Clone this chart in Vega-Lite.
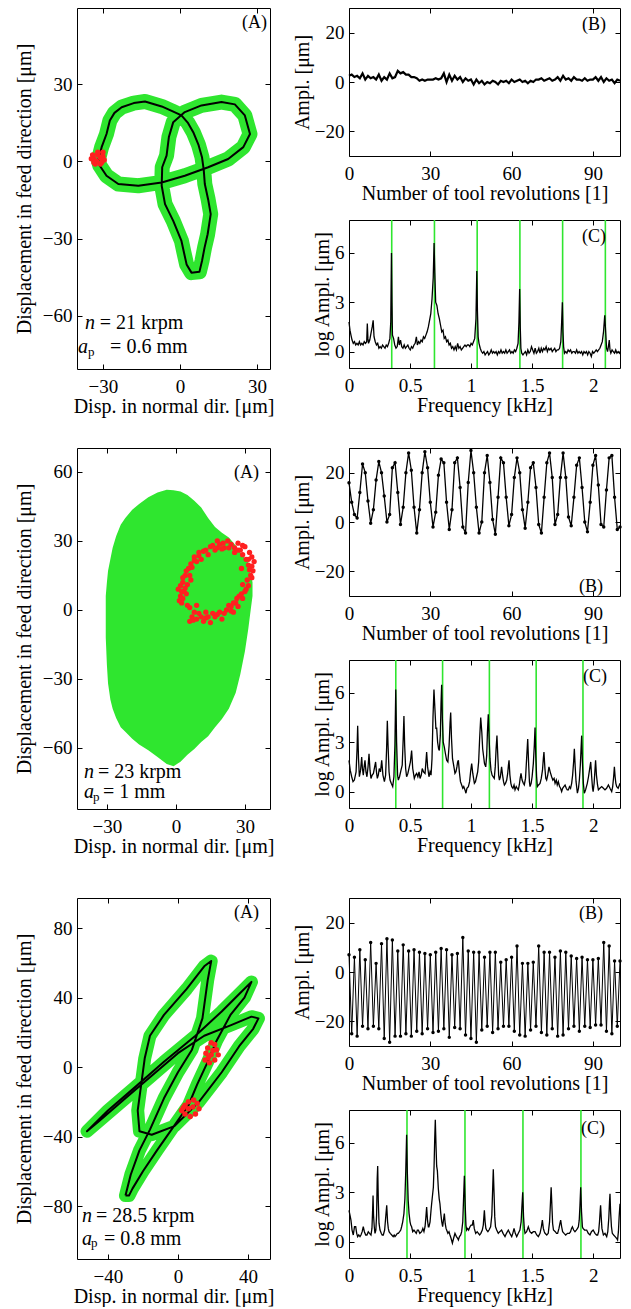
{
"$schema": "https://vega.github.io/schema/vega-lite/v6.json",
"background": "white",
"padding": {"left": 13, "top": 7, "right": 0, "bottom": 0},
"spacing": 30,
"datasets": {
"a1": [{"i":0,"x":-31.8,"y":0.5},{"i":1,"x":-30.5,"y":5.5},{"i":2,"x":-28.6,"y":10.6},{"i":3,"x":-27.3,"y":15.8},{"i":4,"x":-25.5,"y":18.8},{"i":5,"x":-22.7,"y":21},{"i":6,"x":-18,"y":22.6},{"i":7,"x":-13.6,"y":23.2},{"i":8,"x":-7.1,"y":21.3},{"i":9,"x":-3,"y":19.5},{"i":10,"x":0.6,"y":17.8},{"i":11,"x":3.2,"y":14.8},{"i":12,"x":5.2,"y":11.3},{"i":13,"x":7.2,"y":6.5},{"i":14,"x":8.6,"y":1.6},{"i":15,"x":9.3,"y":-3.5},{"i":16,"x":9.7,"y":-8.8},{"i":17,"x":11,"y":-14.8},{"i":18,"x":12,"y":-20.5},{"i":19,"x":10.8,"y":-28.3},{"i":20,"x":9.6,"y":-33.5},{"i":21,"x":8.6,"y":-38.7},{"i":22,"x":7.6,"y":-42.9},{"i":23,"x":4.5,"y":-43.2},{"i":24,"x":2.6,"y":-40},{"i":25,"x":1.6,"y":-35.5},{"i":26,"x":0.6,"y":-30.9},{"i":27,"x":-2.6,"y":-23.1},{"i":28,"x":-5.8,"y":-16.6},{"i":29,"x":-7.1,"y":-9.5},{"i":30,"x":-6.9,"y":-2.3},{"i":31,"x":-5.2,"y":2.2},{"i":32,"x":-4.3,"y":9.4},{"i":33,"x":-2.6,"y":15.2},{"i":34,"x":1.9,"y":19.1},{"i":35,"x":8.4,"y":21.7},{"i":36,"x":16.2,"y":23},{"i":37,"x":21.4,"y":22.1},{"i":38,"x":25.3,"y":17.8},{"i":39,"x":27.3,"y":10.6},{"i":40,"x":24.7,"y":5.5},{"i":41,"x":18.8,"y":0.9},{"i":42,"x":11,"y":-2.3},{"i":43,"x":1.9,"y":-5.6},{"i":44,"x":-7.1,"y":-8.2},{"i":45,"x":-16.2,"y":-9.5},{"i":46,"x":-24,"y":-8.8},{"i":47,"x":-28.6,"y":-5.6},{"i":48,"x":-31.2,"y":-1.7},{"i":49,"x":-31.8,"y":0.5}],
"a1r": [{"x":-33.5,"y":1},{"x":-32,"y":2.5},{"x":-30,"y":2},{"x":-31,"y":-1},{"x":-33,"y":-1},{"x":-29.5,"y":0.5},{"x":-32.5,"y":0},{"x":-31,"y":1.5},{"x":-34,"y":2.5},{"x":-30.5,"y":-0.5},{"x":-32,"y":3.5},{"x":-33.5,"y":-0.5},{"x":-30,"y":3.5},{"x":-34.5,"y":1}],
"a2": [{"x":-30.5,"lo":-12,"hi":6},{"x":-30,"lo":-24,"hi":12},{"x":-29.5,"lo":-32,"hi":17},{"x":-28.5,"lo":-39,"hi":22},{"x":-27.5,"lo":-43,"hi":27},{"x":-26,"lo":-47,"hi":32},{"x":-24,"lo":-51,"hi":37},{"x":-22,"lo":-53,"hi":40},{"x":-19,"lo":-56,"hi":43.5},{"x":-16,"lo":-58.5,"hi":46},{"x":-12,"lo":-61,"hi":49},{"x":-8,"lo":-64,"hi":51},{"x":-4,"lo":-67,"hi":52.2},{"x":-1,"lo":-68,"hi":52},{"x":2,"lo":-66,"hi":51.5},{"x":5,"lo":-63,"hi":50},{"x":8,"lo":-60.5,"hi":47.5},{"x":11,"lo":-57.5,"hi":44.5},{"x":14,"lo":-55,"hi":40},{"x":17,"lo":-51,"hi":36},{"x":20,"lo":-47.5,"hi":33.5},{"x":23,"lo":-43,"hi":31.5},{"x":26,"lo":-36,"hi":28},{"x":28,"lo":-28,"hi":25},{"x":30,"lo":-18,"hi":22.5},{"x":31.5,"lo":-8,"hi":20.5},{"x":32.5,"lo":0,"hi":16},{"x":33.3,"lo":6,"hi":12}],
"a2r": [{"x":2,"y":6},{"x":1,"y":9},{"x":3,"y":12},{"x":2.5,"y":3},{"x":4,"y":15},{"x":5.5,"y":18},{"x":4.5,"y":7},{"x":6,"y":1},{"x":7,"y":-3},{"x":6,"y":-5},{"x":9,"y":-4},{"x":10,"y":-1.5},{"x":12,"y":-5},{"x":14,"y":-3},{"x":15,"y":-5.5},{"x":17,"y":-3},{"x":19,"y":-1},{"x":20,"y":-4},{"x":22,"y":0},{"x":24,"y":1.5},{"x":25,"y":-1},{"x":26,"y":3},{"x":27.5,"y":6},{"x":29,"y":5},{"x":30,"y":8},{"x":29,"y":11},{"x":31,"y":13},{"x":32.5,"y":15},{"x":33,"y":19},{"x":34,"y":21},{"x":31.5,"y":22},{"x":32,"y":25},{"x":30,"y":27.5},{"x":28,"y":26},{"x":27,"y":29},{"x":24,"y":28.5},{"x":22.5,"y":30},{"x":21,"y":27},{"x":19,"y":28.5},{"x":17,"y":26},{"x":15,"y":27.5},{"x":14,"y":24},{"x":12,"y":25.5},{"x":11,"y":22},{"x":9,"y":21},{"x":8,"y":23},{"x":7,"y":18.5},{"x":6,"y":15},{"x":5,"y":11},{"x":3.5,"y":8},{"x":28.5,"y":18},{"x":25.5,"y":25},{"x":9,"y":2},{"x":16,"y":-1.5},{"x":20.5,"y":29},{"x":32,"y":17.5},{"x":1.5,"y":4},{"x":2,"y":10.5},{"x":3,"y":14},{"x":4.5,"y":17},{"x":6.5,"y":20},{"x":8,"y":21.5},{"x":10,"y":23.5},{"x":13,"y":26},{"x":16,"y":28},{"x":18,"y":27},{"x":20,"y":26.5},{"x":23,"y":27},{"x":25.5,"y":27},{"x":27,"y":26},{"x":29,"y":24},{"x":30.5,"y":22},{"x":31.5,"y":19.5},{"x":33.5,"y":17},{"x":33,"y":14},{"x":31.5,"y":10.5},{"x":30.5,"y":9},{"x":28.5,"y":7},{"x":26.5,"y":5},{"x":25,"y":3},{"x":23,"y":2},{"x":21,"y":-1.5},{"x":18,"y":-2},{"x":13,"y":-3.5},{"x":11,"y":-3},{"x":8,"y":-1},{"x":5,"y":2},{"x":3,"y":5},{"x":4,"y":9.5},{"x":2.5,"y":8},{"x":7.5,"y":-4.5},{"x":13,"y":-1},{"x":24,"y":-0.5},{"x":27,"y":1.5},{"x":33,"y":23},{"x":29,"y":28},{"x":18,"y":30},{"x":10,"y":25},{"x":6.5,"y":13}],
"a3": [{"i":0,"x":-30,"y":-74},{"i":1,"x":-27,"y":-62},{"i":2,"x":-22,"y":-48},{"i":3,"x":-16,"y":-36},{"i":4,"x":-8,"y":-18},{"i":5,"x":0,"y":-3},{"i":6,"x":8,"y":10},{"i":7,"x":14,"y":28},{"i":8,"x":17,"y":50},{"i":9,"x":19,"y":61},{"i":10,"x":15,"y":58},{"i":11,"x":5,"y":45},{"i":12,"x":-8,"y":30},{"i":13,"x":-16,"y":18},{"i":14,"x":-19,"y":5},{"i":15,"x":-21,"y":-10},{"i":16,"x":-23,"y":-25},{"i":17,"x":-22,"y":-37},{"i":18,"x":-15,"y":-39},{"i":19,"x":-2,"y":-34},{"i":20,"x":12,"y":-20},{"i":21,"x":25,"y":-3},{"i":22,"x":35,"y":12},{"i":23,"x":43,"y":22},{"i":24,"x":46,"y":28},{"i":25,"x":42,"y":29},{"i":26,"x":30,"y":24},{"i":27,"x":15,"y":18},{"i":28,"x":0,"y":8},{"i":29,"x":-15,"y":-5},{"i":30,"x":-30,"y":-18},{"i":31,"x":-45,"y":-31},{"i":32,"x":-52,"y":-37},{"i":33,"x":-40,"y":-25},{"i":34,"x":-25,"y":-12},{"i":35,"x":-8,"y":3},{"i":36,"x":10,"y":18},{"i":37,"x":25,"y":32},{"i":38,"x":36,"y":43},{"i":39,"x":42,"y":49},{"i":40,"x":38,"y":40},{"i":41,"x":30,"y":30},{"i":42,"x":22,"y":15},{"i":43,"x":17,"y":3},{"i":44,"x":11,"y":-10},{"i":45,"x":6,"y":-22},{"i":46,"x":-3,"y":-35},{"i":47,"x":-12,"y":-48},{"i":48,"x":-20,"y":-60},{"i":49,"x":-26,"y":-70},{"i":50,"x":-28,"y":-74},{"i":51,"x":-30,"y":-74}],
"a3r": [{"x":15.5,"y":4},{"x":18,"y":2.5},{"x":21,"y":4},{"x":23,"y":7},{"x":22,"y":10},{"x":21,"y":13},{"x":19,"y":14},{"x":17,"y":11},{"x":16,"y":8},{"x":19,"y":7},{"x":20,"y":9.5},{"x":17.5,"y":5.5},{"x":2,"y":-25},{"x":4,"y":-22},{"x":6,"y":-20},{"x":9,"y":-19},{"x":11,"y":-21},{"x":12,"y":-24},{"x":10,"y":-27},{"x":7,"y":-28.5},{"x":4,"y":-27},{"x":6,"y":-24},{"x":8.5,"y":-23},{"x":3,"y":-23.5}],
"b1": [{"x":0,"y":2.5},{"x":1,"y":3},{"x":2,"y":2},{"x":3,"y":2.5},{"x":4,"y":1.5},{"x":5,"y":3.5},{"x":6,"y":1},{"x":7,"y":2.5},{"x":8,"y":1.5},{"x":9,"y":2},{"x":10,"y":1},{"x":11,"y":3},{"x":12,"y":0.5},{"x":13,"y":2},{"x":14,"y":1},{"x":15,"y":3.5},{"x":16,"y":1.5},{"x":17,"y":2},{"x":18,"y":4.5},{"x":19,"y":3.5},{"x":20,"y":4},{"x":21,"y":3},{"x":22,"y":3},{"x":23,"y":2},{"x":24,"y":2},{"x":25,"y":1.5},{"x":26,"y":0.5},{"x":27,"y":1},{"x":28,"y":0.5},{"x":29,"y":1},{"x":30,"y":1},{"x":31,"y":1},{"x":32,"y":1.5},{"x":33,"y":1},{"x":34,"y":1.5},{"x":35,"y":3.5},{"x":36,"y":0},{"x":37,"y":3},{"x":38,"y":0.5},{"x":39,"y":2.5},{"x":40,"y":1},{"x":41,"y":2},{"x":42,"y":0},{"x":43,"y":1.5},{"x":44,"y":0.5},{"x":45,"y":1},{"x":46,"y":-1},{"x":47,"y":1},{"x":48,"y":-0.5},{"x":49,"y":0.5},{"x":50,"y":-1},{"x":51,"y":0},{"x":52,"y":-0.5},{"x":53,"y":0.5},{"x":54,"y":0},{"x":55,"y":-1},{"x":56,"y":0.5},{"x":57,"y":0},{"x":58,"y":0.5},{"x":59,"y":-0.5},{"x":60,"y":1},{"x":61,"y":0},{"x":62,"y":0.5},{"x":63,"y":1},{"x":64,"y":0},{"x":65,"y":0.5},{"x":66,"y":-0.5},{"x":67,"y":0.5},{"x":68,"y":0},{"x":69,"y":1},{"x":70,"y":1},{"x":71,"y":1.5},{"x":72,"y":0.5},{"x":73,"y":1},{"x":74,"y":1.5},{"x":75,"y":0.5},{"x":76,"y":1},{"x":77,"y":2},{"x":78,"y":0.5},{"x":79,"y":2.5},{"x":80,"y":1},{"x":81,"y":1.5},{"x":82,"y":0.5},{"x":83,"y":2},{"x":84,"y":1},{"x":85,"y":1},{"x":86,"y":0.5},{"x":87,"y":1.5},{"x":88,"y":0.5},{"x":89,"y":1},{"x":90,"y":1},{"x":91,"y":2},{"x":92,"y":0.5},{"x":93,"y":2},{"x":94,"y":0},{"x":95,"y":1.5},{"x":96,"y":0.5},{"x":97,"y":1},{"x":98,"y":-0.5},{"x":99,"y":1},{"x":100,"y":0.5}],
"b2": [{"x":0,"y":15.9},{"x":1,"y":8},{"x":2,"y":3},{"x":3,"y":1.6},{"x":4,"y":12},{"x":5,"y":23.5},{"x":6,"y":20},{"x":7,"y":8.5},{"x":8,"y":-0.5},{"x":9,"y":5},{"x":10,"y":17},{"x":11,"y":24.5},{"x":12,"y":20},{"x":13,"y":10.5},{"x":14,"y":0},{"x":15,"y":3},{"x":16,"y":22},{"x":17,"y":24},{"x":18,"y":12},{"x":19,"y":-1},{"x":20,"y":6},{"x":21,"y":20},{"x":22,"y":28},{"x":23,"y":21},{"x":24,"y":6},{"x":25,"y":-4.5},{"x":26,"y":5},{"x":27,"y":20},{"x":28,"y":28.5},{"x":29,"y":22},{"x":30,"y":8},{"x":31,"y":-2},{"x":32,"y":4},{"x":33,"y":19},{"x":34,"y":25.5},{"x":35,"y":24},{"x":36,"y":8},{"x":37,"y":-3},{"x":38,"y":5},{"x":39,"y":24},{"x":40,"y":26},{"x":41,"y":14},{"x":42,"y":-2},{"x":43,"y":-4.5},{"x":44,"y":16},{"x":45,"y":29},{"x":46,"y":20},{"x":47,"y":6},{"x":48,"y":-4.5},{"x":49,"y":0},{"x":50,"y":20},{"x":51,"y":27},{"x":52,"y":16},{"x":53,"y":1},{"x":54,"y":-5},{"x":55,"y":10},{"x":56,"y":26},{"x":57,"y":24},{"x":58,"y":10},{"x":59,"y":-1.5},{"x":60,"y":3},{"x":61,"y":18},{"x":62,"y":26},{"x":63,"y":20},{"x":64,"y":5},{"x":65,"y":-2.5},{"x":66,"y":8},{"x":67,"y":22},{"x":68,"y":24},{"x":69,"y":14},{"x":70,"y":-1},{"x":71,"y":-4.5},{"x":72,"y":10},{"x":73,"y":24},{"x":74,"y":28},{"x":75,"y":18},{"x":76,"y":-1},{"x":77,"y":3},{"x":78,"y":18},{"x":79,"y":28},{"x":80,"y":18},{"x":81,"y":2},{"x":82,"y":-1.5},{"x":83,"y":10},{"x":84,"y":23},{"x":85,"y":26},{"x":86,"y":14},{"x":87,"y":0},{"x":88,"y":-4},{"x":89,"y":8},{"x":90,"y":23},{"x":91,"y":27},{"x":92,"y":15},{"x":93,"y":-1},{"x":94,"y":-2},{"x":95,"y":13},{"x":96,"y":26},{"x":97,"y":27},{"x":98,"y":10},{"x":99,"y":-3},{"x":100,"y":-2}],
"b3": [{"x":0,"y":7},{"x":1,"y":-25},{"x":2,"y":6},{"x":3,"y":-26},{"x":4,"y":9},{"x":5,"y":-22},{"x":6,"y":5},{"x":7,"y":-23},{"x":8,"y":12},{"x":9,"y":-22},{"x":10,"y":3.5},{"x":11,"y":-23},{"x":12,"y":11.5},{"x":13,"y":-27},{"x":14,"y":13.5},{"x":15,"y":-28.5},{"x":16,"y":13},{"x":17,"y":-26},{"x":18,"y":8.5},{"x":19,"y":-26},{"x":20,"y":11},{"x":21,"y":-25},{"x":22,"y":8.5},{"x":23,"y":-26},{"x":24,"y":9},{"x":25,"y":-24},{"x":26,"y":8},{"x":27,"y":-25},{"x":28,"y":7.5},{"x":29,"y":-23},{"x":30,"y":7},{"x":31,"y":-24.5},{"x":32,"y":8},{"x":33,"y":-24},{"x":34,"y":9.5},{"x":35,"y":-23},{"x":36,"y":9},{"x":37,"y":-26.5},{"x":38,"y":7},{"x":39,"y":-22.5},{"x":40,"y":7.5},{"x":41,"y":-23},{"x":42,"y":14},{"x":43,"y":-25.5},{"x":44,"y":8.5},{"x":45,"y":-27},{"x":46,"y":8},{"x":47,"y":-28.5},{"x":48,"y":8},{"x":49,"y":-23.5},{"x":50,"y":6},{"x":51,"y":-22},{"x":52,"y":8},{"x":53,"y":-24.5},{"x":54,"y":8},{"x":55,"y":-23},{"x":56,"y":4},{"x":57,"y":-22},{"x":58,"y":5},{"x":59,"y":-22},{"x":60,"y":6},{"x":61,"y":-24},{"x":62,"y":10.5},{"x":63,"y":-25.5},{"x":64,"y":3.5},{"x":65,"y":-26},{"x":66,"y":3.5},{"x":67,"y":-23.5},{"x":68,"y":4},{"x":69,"y":-22},{"x":70,"y":10.5},{"x":71,"y":-24.5},{"x":72,"y":8},{"x":73,"y":-25.5},{"x":74,"y":8},{"x":75,"y":-23},{"x":76,"y":6},{"x":77,"y":-26},{"x":78,"y":8.5},{"x":79,"y":-25.5},{"x":80,"y":8},{"x":81,"y":-23},{"x":82,"y":6.5},{"x":83,"y":-22},{"x":84,"y":5.5},{"x":85,"y":-24},{"x":86,"y":6},{"x":87,"y":-22},{"x":88,"y":5},{"x":89,"y":-22.5},{"x":90,"y":5},{"x":91,"y":-21.5},{"x":92,"y":5.5},{"x":93,"y":-21.5},{"x":94,"y":12},{"x":95,"y":-24},{"x":96,"y":10.5},{"x":97,"y":-25},{"x":98,"y":4.5},{"x":99,"y":-22},{"x":100,"y":4.5}],
"c1": [{"x":0,"y":1.8},{"x":0.008,"y":1.3},{"x":0.016,"y":1},{"x":0.025,"y":0.7},{"x":0.035,"y":0.5},{"x":0.045,"y":0.6},{"x":0.055,"y":0.4},{"x":0.065,"y":0.5},{"x":0.075,"y":0.4},{"x":0.085,"y":0.6},{"x":0.095,"y":0.4},{"x":0.105,"y":0.5},{"x":0.115,"y":0.4},{"x":0.125,"y":0.6},{"x":0.135,"y":0.5},{"x":0.145,"y":0.6},{"x":0.15,"y":1.7},{"x":0.155,"y":0.8},{"x":0.16,"y":0.5},{"x":0.17,"y":0.7},{"x":0.18,"y":1.1},{"x":0.19,"y":1.5},{"x":0.198,"y":1.9},{"x":0.205,"y":0.9},{"x":0.215,"y":0.6},{"x":0.225,"y":0.4},{"x":0.235,"y":0.5},{"x":0.245,"y":0.2},{"x":0.255,"y":0.3},{"x":0.265,"y":0.2},{"x":0.275,"y":0.4},{"x":0.285,"y":0.3},{"x":0.295,"y":0.2},{"x":0.305,"y":0.4},{"x":0.315,"y":0.3},{"x":0.325,"y":0.5},{"x":0.335,"y":0.8},{"x":0.342,"y":1.8},{"x":0.348,"y":6},{"x":0.352,"y":3},{"x":0.356,"y":1},{"x":0.365,"y":0.8},{"x":0.375,"y":0.4},{"x":0.385,"y":0.2},{"x":0.395,"y":0.3},{"x":0.405,"y":0.9},{"x":0.412,"y":0.4},{"x":0.422,"y":0.7},{"x":0.432,"y":0.3},{"x":0.442,"y":0.2},{"x":0.452,"y":0.4},{"x":0.462,"y":0.2},{"x":0.472,"y":0.3},{"x":0.482,"y":0.4},{"x":0.492,"y":0.2},{"x":0.502,"y":0.1},{"x":0.512,"y":0.3},{"x":0.522,"y":0.2},{"x":0.532,"y":0.4},{"x":0.542,"y":0.5},{"x":0.552,"y":0.9},{"x":0.56,"y":0.4},{"x":0.57,"y":0.6},{"x":0.58,"y":0.5},{"x":0.59,"y":0.7},{"x":0.6,"y":0.6},{"x":0.61,"y":0.9},{"x":0.62,"y":0.8},{"x":0.63,"y":1},{"x":0.64,"y":1.2},{"x":0.65,"y":1.5},{"x":0.66,"y":1.9},{"x":0.67,"y":2.3},{"x":0.68,"y":3.2},{"x":0.69,"y":4.5},{"x":0.697,"y":6.6},{"x":0.703,"y":4.8},{"x":0.71,"y":3},{"x":0.72,"y":2.8},{"x":0.73,"y":2.3},{"x":0.74,"y":2},{"x":0.75,"y":1.6},{"x":0.76,"y":1.2},{"x":0.77,"y":1.3},{"x":0.78,"y":0.8},{"x":0.79,"y":0.9},{"x":0.8,"y":0.6},{"x":0.81,"y":0.7},{"x":0.82,"y":0.4},{"x":0.83,"y":0.5},{"x":0.84,"y":0.2},{"x":0.85,"y":0.3},{"x":0.86,"y":0.1},{"x":0.87,"y":0.3},{"x":0.88,"y":0.1},{"x":0.89,"y":0.5},{"x":0.9,"y":0.2},{"x":0.91,"y":0.3},{"x":0.92,"y":0.1},{"x":0.93,"y":0.2},{"x":0.94,"y":0.3},{"x":0.95,"y":0.4},{"x":0.96,"y":0.3},{"x":0.97,"y":0.4},{"x":0.98,"y":0.4},{"x":0.99,"y":0.3},{"x":1,"y":0.5},{"x":1.01,"y":0.4},{"x":1.02,"y":0.6},{"x":1.03,"y":0.8},{"x":1.04,"y":2},{"x":1.047,"y":4.9},{"x":1.052,"y":2.5},{"x":1.058,"y":0.9},{"x":1.065,"y":0.5},{"x":1.075,"y":0.2},{"x":1.085,"y":0},{"x":1.095,"y":-0.1},{"x":1.105,"y":0},{"x":1.115,"y":-0.2},{"x":1.125,"y":-0.1},{"x":1.135,"y":0},{"x":1.145,"y":-0.2},{"x":1.155,"y":-0.1},{"x":1.165,"y":0.1},{"x":1.175,"y":-0.1},{"x":1.185,"y":0},{"x":1.195,"y":-0.1},{"x":1.205,"y":0},{"x":1.215,"y":-0.2},{"x":1.225,"y":0},{"x":1.235,"y":-0.1},{"x":1.245,"y":0.1},{"x":1.255,"y":-0.1},{"x":1.265,"y":0},{"x":1.275,"y":-0.1},{"x":1.285,"y":0.1},{"x":1.295,"y":-0.1},{"x":1.305,"y":0},{"x":1.315,"y":0.1},{"x":1.325,"y":-0.1},{"x":1.335,"y":0},{"x":1.345,"y":-0.1},{"x":1.355,"y":0.1},{"x":1.365,"y":0},{"x":1.375,"y":0.2},{"x":1.385,"y":0.5},{"x":1.392,"y":1.8},{"x":1.398,"y":3.8},{"x":1.403,"y":1.5},{"x":1.408,"y":0.2},{"x":1.415,"y":-0.1},{"x":1.425,"y":-0.2},{"x":1.435,"y":-0.1},{"x":1.445,"y":0},{"x":1.455,"y":-0.2},{"x":1.465,"y":0.1},{"x":1.475,"y":-0.1},{"x":1.485,"y":0},{"x":1.495,"y":0.3},{"x":1.505,"y":0.1},{"x":1.515,"y":-0.1},{"x":1.525,"y":0.2},{"x":1.535,"y":-0.1},{"x":1.545,"y":0},{"x":1.555,"y":0.2},{"x":1.565,"y":-0.1},{"x":1.575,"y":0.2},{"x":1.585,"y":0},{"x":1.595,"y":0.2},{"x":1.605,"y":0.1},{"x":1.615,"y":0.3},{"x":1.625,"y":0},{"x":1.635,"y":0.2},{"x":1.645,"y":0.1},{"x":1.655,"y":0.2},{"x":1.665,"y":0},{"x":1.675,"y":0.1},{"x":1.685,"y":0.2},{"x":1.695,"y":0},{"x":1.705,"y":0.1},{"x":1.715,"y":0.1},{"x":1.725,"y":0.2},{"x":1.735,"y":0.6},{"x":1.742,"y":1.8},{"x":1.748,"y":3},{"x":1.753,"y":1.2},{"x":1.758,"y":0.3},{"x":1.765,"y":-0.1},{"x":1.775,"y":0},{"x":1.785,"y":-0.1},{"x":1.795,"y":0.1},{"x":1.805,"y":0},{"x":1.815,"y":0.1},{"x":1.825,"y":-0.1},{"x":1.835,"y":0},{"x":1.845,"y":0},{"x":1.855,"y":-0.1},{"x":1.865,"y":0.1},{"x":1.875,"y":-0.1},{"x":1.885,"y":0},{"x":1.895,"y":-0.1},{"x":1.905,"y":0},{"x":1.915,"y":-0.2},{"x":1.925,"y":0},{"x":1.935,"y":-0.1},{"x":1.945,"y":0},{"x":1.955,"y":-0.2},{"x":1.965,"y":0},{"x":1.975,"y":-0.1},{"x":1.985,"y":-0.3},{"x":1.995,"y":0},{"x":2.005,"y":-0.1},{"x":2.015,"y":0},{"x":2.025,"y":0.1},{"x":2.035,"y":0},{"x":2.045,"y":0.1},{"x":2.055,"y":0.2},{"x":2.065,"y":0.4},{"x":2.075,"y":0.6},{"x":2.085,"y":1.2},{"x":2.095,"y":2.2},{"x":2.102,"y":1.3},{"x":2.11,"y":0.2},{"x":2.118,"y":0},{"x":2.125,"y":0.3},{"x":2.132,"y":0.7},{"x":2.138,"y":0.1},{"x":2.145,"y":-0.1},{"x":2.155,"y":0.1},{"x":2.165,"y":0},{"x":2.175,"y":-0.1},{"x":2.185,"y":0.1},{"x":2.195,"y":-0.1},{"x":2.205,"y":0},{"x":2.215,"y":-0.1},{"x":2.22,"y":0}],
"c2": [{"x":0,"y":1.9},{"x":0.01,"y":1.3},{"x":0.022,"y":0.9},{"x":0.033,"y":0.6},{"x":0.044,"y":0.7},{"x":0.058,"y":1.2},{"x":0.066,"y":2.6},{"x":0.071,"y":4},{"x":0.078,"y":2},{"x":0.085,"y":0.9},{"x":0.095,"y":1.3},{"x":0.104,"y":2.1},{"x":0.11,"y":1.4},{"x":0.117,"y":1},{"x":0.124,"y":1.5},{"x":0.131,"y":1.9},{"x":0.139,"y":1.2},{"x":0.147,"y":0.9},{"x":0.156,"y":1.5},{"x":0.164,"y":2.3},{"x":0.172,"y":1.3},{"x":0.18,"y":0.8},{"x":0.19,"y":1},{"x":0.2,"y":1.1},{"x":0.21,"y":1.5},{"x":0.218,"y":1.8},{"x":0.225,"y":1.2},{"x":0.232,"y":0.8},{"x":0.24,"y":1},{"x":0.248,"y":1.4},{"x":0.258,"y":1.2},{"x":0.268,"y":1.9},{"x":0.278,"y":1},{"x":0.29,"y":0.6},{"x":0.3,"y":1},{"x":0.308,"y":2.6},{"x":0.314,"y":4.3},{"x":0.32,"y":2.8},{"x":0.328,"y":1.2},{"x":0.336,"y":0.7},{"x":0.346,"y":0.5},{"x":0.358,"y":0.3},{"x":0.368,"y":0.9},{"x":0.376,"y":2.8},{"x":0.383,"y":6.2},{"x":0.39,"y":3},{"x":0.398,"y":1},{"x":0.404,"y":0.7},{"x":0.414,"y":0.9},{"x":0.426,"y":1.3},{"x":0.436,"y":1.6},{"x":0.444,"y":3.2},{"x":0.45,"y":4.6},{"x":0.456,"y":2.8},{"x":0.464,"y":1.4},{"x":0.472,"y":0.9},{"x":0.482,"y":1.1},{"x":0.494,"y":1.5},{"x":0.503,"y":1.8},{"x":0.513,"y":2.5},{"x":0.522,"y":1.4},{"x":0.535,"y":0.8},{"x":0.545,"y":1},{"x":0.554,"y":1.1},{"x":0.564,"y":0.9},{"x":0.574,"y":1.2},{"x":0.582,"y":0.8},{"x":0.592,"y":1},{"x":0.6,"y":1.4},{"x":0.61,"y":1.2},{"x":0.623,"y":1.1},{"x":0.63,"y":1.8},{"x":0.636,"y":2.4},{"x":0.644,"y":1.5},{"x":0.655,"y":0.9},{"x":0.664,"y":1.2},{"x":0.672,"y":1},{"x":0.68,"y":2},{"x":0.688,"y":4.5},{"x":0.696,"y":6.2},{"x":0.704,"y":5},{"x":0.712,"y":3.8},{"x":0.718,"y":3.9},{"x":0.726,"y":3},{"x":0.734,"y":2.6},{"x":0.74,"y":2.5},{"x":0.748,"y":3.4},{"x":0.754,"y":5.4},{"x":0.759,"y":6.5},{"x":0.765,"y":4.4},{"x":0.772,"y":3},{"x":0.781,"y":2.7},{"x":0.79,"y":2.3},{"x":0.8,"y":1.9},{"x":0.81,"y":1.8},{"x":0.82,"y":2.8},{"x":0.828,"y":4.2},{"x":0.833,"y":4.8},{"x":0.84,"y":3.2},{"x":0.848,"y":2},{"x":0.855,"y":1.7},{"x":0.862,"y":1.4},{"x":0.868,"y":1.1},{"x":0.876,"y":1.2},{"x":0.884,"y":1.5},{"x":0.89,"y":1.8},{"x":0.896,"y":1.9},{"x":0.904,"y":1.2},{"x":0.913,"y":0.6},{"x":0.923,"y":0.4},{"x":0.932,"y":0.2},{"x":0.94,"y":0.3},{"x":0.95,"y":0.1},{"x":0.958,"y":-0.1},{"x":0.966,"y":0.2},{"x":0.978,"y":0.3},{"x":0.988,"y":0.6},{"x":0.996,"y":1.2},{"x":1.005,"y":1.7},{"x":1.014,"y":1.1},{"x":1.027,"y":0.5},{"x":1.036,"y":0.6},{"x":1.045,"y":0.9},{"x":1.054,"y":1.2},{"x":1.062,"y":1.8},{"x":1.07,"y":3.2},{"x":1.079,"y":4.5},{"x":1.088,"y":3.6},{"x":1.095,"y":2.6},{"x":1.1,"y":2.3},{"x":1.11,"y":1.7},{"x":1.12,"y":1.5},{"x":1.128,"y":2.2},{"x":1.134,"y":3.6},{"x":1.141,"y":4.7},{"x":1.148,"y":3.2},{"x":1.155,"y":2},{"x":1.163,"y":1.3},{"x":1.172,"y":1},{"x":1.18,"y":0.9},{"x":1.19,"y":0.8},{"x":1.198,"y":1.5},{"x":1.205,"y":2.6},{"x":1.212,"y":3.4},{"x":1.22,"y":2},{"x":1.226,"y":1},{"x":1.232,"y":0.7},{"x":1.24,"y":0.9},{"x":1.25,"y":1.5},{"x":1.258,"y":1},{"x":1.266,"y":0.6},{"x":1.273,"y":0.4},{"x":1.282,"y":0.5},{"x":1.292,"y":0.7},{"x":1.3,"y":1.1},{"x":1.306,"y":1.6},{"x":1.311,"y":1.9},{"x":1.318,"y":1},{"x":1.326,"y":0.5},{"x":1.333,"y":0.3},{"x":1.343,"y":0.2},{"x":1.352,"y":0.4},{"x":1.36,"y":0.1},{"x":1.37,"y":0.3},{"x":1.378,"y":0.2},{"x":1.387,"y":0.1},{"x":1.395,"y":0.4},{"x":1.402,"y":0.8},{"x":1.409,"y":1.1},{"x":1.418,"y":0.7},{"x":1.428,"y":0.5},{"x":1.436,"y":0.4},{"x":1.446,"y":0.8},{"x":1.455,"y":2},{"x":1.464,"y":3.2},{"x":1.472,"y":1.6},{"x":1.478,"y":0.6},{"x":1.483,"y":0.3},{"x":1.492,"y":0.5},{"x":1.5,"y":0.9},{"x":1.51,"y":1.7},{"x":1.518,"y":2.8},{"x":1.524,"y":3.9},{"x":1.53,"y":2.2},{"x":1.537,"y":0.9},{"x":1.543,"y":0.3},{"x":1.553,"y":0.4},{"x":1.565,"y":0.5},{"x":1.575,"y":0.8},{"x":1.585,"y":1.3},{"x":1.592,"y":2},{"x":1.597,"y":2.4},{"x":1.605,"y":1.4},{"x":1.612,"y":0.8},{"x":1.619,"y":0.7},{"x":1.628,"y":1},{"x":1.638,"y":1.5},{"x":1.648,"y":1.2},{"x":1.66,"y":0.9},{"x":1.67,"y":0.7},{"x":1.68,"y":0.8},{"x":1.688,"y":0.5},{"x":1.698,"y":0.7},{"x":1.706,"y":0.4},{"x":1.715,"y":0.6},{"x":1.725,"y":0.3},{"x":1.733,"y":0.2},{"x":1.742,"y":0},{"x":1.75,"y":0.2},{"x":1.76,"y":0.3},{"x":1.77,"y":0.4},{"x":1.78,"y":0.2},{"x":1.788,"y":0.1},{"x":1.797,"y":0.1},{"x":1.806,"y":0.3},{"x":1.815,"y":0.2},{"x":1.824,"y":0.5},{"x":1.832,"y":1},{"x":1.84,"y":1.8},{"x":1.846,"y":2.6},{"x":1.853,"y":1.5},{"x":1.86,"y":0.6},{"x":1.871,"y":-0.1},{"x":1.88,"y":0.2},{"x":1.887,"y":0.7},{"x":1.895,"y":1.6},{"x":1.901,"y":2.6},{"x":1.906,"y":3.4},{"x":1.912,"y":1.8},{"x":1.92,"y":0.5},{"x":1.928,"y":-0.1},{"x":1.938,"y":0.1},{"x":1.945,"y":0.3},{"x":1.952,"y":0.5},{"x":1.962,"y":0.9},{"x":1.97,"y":1.3},{"x":1.98,"y":1.8},{"x":1.988,"y":0.9},{"x":1.995,"y":0.2},{"x":2,"y":0},{"x":2.008,"y":0.5},{"x":2.014,"y":1.2},{"x":2.02,"y":1.9},{"x":2.027,"y":1},{"x":2.036,"y":0.4},{"x":2.043,"y":0.1},{"x":2.055,"y":0.2},{"x":2.07,"y":0.3},{"x":2.084,"y":0.2},{"x":2.097,"y":0.1},{"x":2.11,"y":0.2},{"x":2.125,"y":0.4},{"x":2.138,"y":0.2},{"x":2.152,"y":0},{"x":2.16,"y":0.3},{"x":2.168,"y":0.9},{"x":2.174,"y":1.5},{"x":2.18,"y":0.9},{"x":2.186,"y":0.5},{"x":2.193,"y":0.3},{"x":2.205,"y":0.2},{"x":2.215,"y":0.4},{"x":2.22,"y":0.5}],
"c3": [{"x":0,"y":1.9},{"x":0.008,"y":1.6},{"x":0.016,"y":1.3},{"x":0.025,"y":0.7},{"x":0.035,"y":0.4},{"x":0.045,"y":0.9},{"x":0.055,"y":0.9},{"x":0.063,"y":0.5},{"x":0.071,"y":0.3},{"x":0.08,"y":0.4},{"x":0.09,"y":0.3},{"x":0.098,"y":0.4},{"x":0.108,"y":0.6},{"x":0.117,"y":0.9},{"x":0.126,"y":0.6},{"x":0.137,"y":0.4},{"x":0.147,"y":0.4},{"x":0.158,"y":0.6},{"x":0.168,"y":0.5},{"x":0.18,"y":0.4},{"x":0.188,"y":0.8},{"x":0.194,"y":2},{"x":0.197,"y":2.8},{"x":0.201,"y":1.6},{"x":0.207,"y":0.9},{"x":0.213,"y":0.5},{"x":0.22,"y":0.7},{"x":0.226,"y":1.6},{"x":0.231,"y":3.8},{"x":0.235,"y":4.6},{"x":0.24,"y":2.5},{"x":0.246,"y":1.1},{"x":0.254,"y":0.7},{"x":0.264,"y":0.5},{"x":0.272,"y":0.4},{"x":0.281,"y":0.4},{"x":0.292,"y":0.7},{"x":0.302,"y":1.6},{"x":0.309,"y":2.2},{"x":0.316,"y":1.2},{"x":0.322,"y":0.8},{"x":0.328,"y":0.6},{"x":0.338,"y":0.5},{"x":0.35,"y":0.4},{"x":0.362,"y":0.3},{"x":0.37,"y":0.4},{"x":0.377,"y":0.3},{"x":0.388,"y":0.4},{"x":0.396,"y":0.5},{"x":0.404,"y":0.5},{"x":0.415,"y":0.6},{"x":0.424,"y":0.7},{"x":0.431,"y":0.9},{"x":0.44,"y":1.2},{"x":0.45,"y":1.7},{"x":0.458,"y":2.6},{"x":0.465,"y":4.3},{"x":0.472,"y":6.5},{"x":0.478,"y":4.2},{"x":0.485,"y":2.5},{"x":0.492,"y":1.7},{"x":0.5,"y":1.2},{"x":0.506,"y":1},{"x":0.513,"y":0.9},{"x":0.522,"y":0.6},{"x":0.532,"y":0.7},{"x":0.541,"y":0.6},{"x":0.551,"y":0.5},{"x":0.56,"y":0.7},{"x":0.568,"y":0.7},{"x":0.58,"y":0.5},{"x":0.595,"y":0.6},{"x":0.605,"y":0.8},{"x":0.614,"y":0.6},{"x":0.623,"y":0.9},{"x":0.63,"y":1.5},{"x":0.636,"y":2.1},{"x":0.643,"y":1.3},{"x":0.65,"y":0.9},{"x":0.655,"y":0.9},{"x":0.664,"y":1.2},{"x":0.672,"y":1.9},{"x":0.677,"y":2.3},{"x":0.684,"y":2.8},{"x":0.691,"y":3.3},{"x":0.697,"y":4.6},{"x":0.702,"y":6.2},{"x":0.707,"y":7.4},{"x":0.713,"y":5.8},{"x":0.718,"y":4.6},{"x":0.724,"y":4.3},{"x":0.732,"y":3.2},{"x":0.739,"y":2.6},{"x":0.745,"y":2.3},{"x":0.752,"y":1.7},{"x":0.76,"y":1.2},{"x":0.767,"y":0.9},{"x":0.774,"y":1.3},{"x":0.781,"y":1.7},{"x":0.788,"y":1.1},{"x":0.795,"y":0.8},{"x":0.8,"y":0.7},{"x":0.81,"y":0.5},{"x":0.819,"y":0.6},{"x":0.827,"y":0.4},{"x":0.836,"y":0.2},{"x":0.847,"y":-0.1},{"x":0.857,"y":0.2},{"x":0.868,"y":0.5},{"x":0.88,"y":0.3},{"x":0.89,"y":0.2},{"x":0.896,"y":0.1},{"x":0.905,"y":0.3},{"x":0.915,"y":0.4},{"x":0.923,"y":0.6},{"x":0.932,"y":1.2},{"x":0.938,"y":2.5},{"x":0.945,"y":4},{"x":0.952,"y":2.2},{"x":0.958,"y":1},{"x":0.964,"y":0.7},{"x":0.972,"y":0.8},{"x":0.98,"y":0.7},{"x":0.991,"y":0.9},{"x":1,"y":1},{"x":1.01,"y":1},{"x":1.018,"y":1.3},{"x":1.026,"y":0.8},{"x":1.038,"y":0.5},{"x":1.05,"y":0.6},{"x":1.06,"y":0.5},{"x":1.07,"y":0.4},{"x":1.08,"y":0.5},{"x":1.092,"y":0.7},{"x":1.1,"y":1},{"x":1.105,"y":1.5},{"x":1.109,"y":1.9},{"x":1.115,"y":1.2},{"x":1.121,"y":0.8},{"x":1.128,"y":0.7},{"x":1.138,"y":0.6},{"x":1.147,"y":0.7},{"x":1.16,"y":0.9},{"x":1.17,"y":1.6},{"x":1.176,"y":3},{"x":1.182,"y":4.4},{"x":1.188,"y":3},{"x":1.194,"y":1.5},{"x":1.2,"y":0.9},{"x":1.21,"y":0.7},{"x":1.223,"y":0.5},{"x":1.235,"y":0.6},{"x":1.25,"y":0.7},{"x":1.262,"y":0.5},{"x":1.278,"y":0.3},{"x":1.29,"y":0.5},{"x":1.305,"y":0.7},{"x":1.318,"y":0.5},{"x":1.333,"y":0.3},{"x":1.342,"y":0.5},{"x":1.352,"y":0.8},{"x":1.362,"y":0.5},{"x":1.374,"y":0.3},{"x":1.387,"y":0.5},{"x":1.4,"y":0.7},{"x":1.41,"y":1.2},{"x":1.417,"y":2.2},{"x":1.423,"y":3},{"x":1.43,"y":1.5},{"x":1.436,"y":0.8},{"x":1.442,"y":0.5},{"x":1.455,"y":0.6},{"x":1.469,"y":0.9},{"x":1.482,"y":0.6},{"x":1.496,"y":0.5},{"x":1.51,"y":0.6},{"x":1.524,"y":0.6},{"x":1.538,"y":0.4},{"x":1.551,"y":0.3},{"x":1.565,"y":0.5},{"x":1.576,"y":0.9},{"x":1.584,"y":1.3},{"x":1.592,"y":0.8},{"x":1.6,"y":0.6},{"x":1.606,"y":0.5},{"x":1.62,"y":0.4},{"x":1.632,"y":0.5},{"x":1.643,"y":1.2},{"x":1.65,"y":2.3},{"x":1.656,"y":3.3},{"x":1.662,"y":2.2},{"x":1.668,"y":1.1},{"x":1.675,"y":0.7},{"x":1.69,"y":0.6},{"x":1.7,"y":0.5},{"x":1.709,"y":0.5},{"x":1.72,"y":0.8},{"x":1.728,"y":1.1},{"x":1.734,"y":1.3},{"x":1.742,"y":0.9},{"x":1.75,"y":0.6},{"x":1.762,"y":0.5},{"x":1.775,"y":0.4},{"x":1.79,"y":0.5},{"x":1.805,"y":0.5},{"x":1.815,"y":0.6},{"x":1.823,"y":0.8},{"x":1.83,"y":0.9},{"x":1.84,"y":0.7},{"x":1.851,"y":0.6},{"x":1.862,"y":0.7},{"x":1.872,"y":0.8},{"x":1.879,"y":0.9},{"x":1.886,"y":1.3},{"x":1.892,"y":2.2},{"x":1.898,"y":3.3},{"x":1.905,"y":1.8},{"x":1.912,"y":0.9},{"x":1.917,"y":0.8},{"x":1.93,"y":0.7},{"x":1.947,"y":0.7},{"x":1.96,"y":0.5},{"x":1.974,"y":0.4},{"x":1.986,"y":0.6},{"x":2,"y":0.7},{"x":2.015,"y":0.5},{"x":2.028,"y":0.4},{"x":2.037,"y":0.4},{"x":2.045,"y":0.6},{"x":2.052,"y":1.2},{"x":2.058,"y":1.9},{"x":2.061,"y":2.2},{"x":2.066,"y":1.5},{"x":2.072,"y":0.8},{"x":2.084,"y":0.4},{"x":2.097,"y":0.5},{"x":2.111,"y":0.3},{"x":2.12,"y":0.6},{"x":2.128,"y":1.4},{"x":2.134,"y":2.4},{"x":2.138,"y":2.9},{"x":2.143,"y":1.8},{"x":2.15,"y":0.9},{"x":2.157,"y":0.5},{"x":2.168,"y":0.4},{"x":2.18,"y":0.3},{"x":2.192,"y":0.2},{"x":2.2,"y":0.1},{"x":2.207,"y":0.6},{"x":2.213,"y":1.5},{"x":2.22,"y":2.3}],
"cg1": [{"x":0.35},{"x":0.7},{"x":1.05},{"x":1.4},{"x":1.75},{"x":2.1}],
"cg2": [{"x":0.3833},{"x":0.7667},{"x":1.15},{"x":1.5333},{"x":1.9167}],
"cg3": [{"x":0.475},{"x":0.95},{"x":1.425},{"x":1.9}]
},
"vconcat": [
{"hconcat": [
 {"width": 193, "height": 361, "layer": [
  {"data": {"name": "a1"}, "mark": {"type": "line", "color": "#2fe62f", "strokeWidth": 15, "strokeCap": "round", "strokeJoin": "round"},
   "encoding": {"x": {"field": "x", "type": "quantitative", "scale": {"domain": [-40.1, 35.1], "nice": false, "zero": false}, "axis": {"orient": "bottom", "values": [-30, 0, 30], "format": ".1~f", "title": "Disp. in normal dir. [μm]"}},
    "y": {"field": "y", "type": "quantitative", "scale": {"domain": [-80.6, 59.5], "nice": false, "zero": false}, "axis": {"orient": "left", "values": [-60, -30, 0, 30], "format": ".1~f", "title": "Displacement in feed direction [μm]", "titlePadding": 8}},
    "order": {"field": "i", "type": "quantitative"}}},
  {"data": {"name": "a1"}, "mark": {"type": "line", "color": "black", "strokeWidth": 2, "strokeJoin": "round"},
   "encoding": {"x": {"field": "x", "type": "quantitative", "axis": null}, "y": {"field": "y", "type": "quantitative", "axis": null}, "order": {"field": "i", "type": "quantitative"}}},
  {"data": {"name": "a1r"}, "mark": {"type": "circle", "color": "#ff2020", "size": 30, "opacity": 1},
   "encoding": {"x": {"field": "x", "type": "quantitative", "axis": null}, "y": {"field": "y", "type": "quantitative", "axis": null}}},
  {"data": {"values": [{}]}, "mark": {"type": "text", "text": "(A)", "font": "Liberation Serif", "fontSize": 18, "align": "right", "baseline": "middle"},
   "encoding": {"x": {"datum": 33.9, "type": "quantitative", "axis": {"orient": "top", "values": [-30, 0, 30], "labels": false, "title": null}}, "y": {"datum": 53.7, "type": "quantitative", "axis": {"orient": "right", "values": [-60, -30, 0, 30], "labels": false, "title": null}}}},
  {"data": {"values": [{}]}, "mark": {"type": "text", "text": "n", "font": "Liberation Serif", "fontStyle": "italic", "fontSize": 20, "align": "left", "baseline": "middle"},
   "encoding": {"x": {"datum": -37.0, "type": "quantitative", "axis": null}, "y": {"datum": -62.8, "type": "quantitative", "axis": null}}},
  {"data": {"values": [{}]}, "mark": {"type": "text", "text": "= 21 krpm", "font": "Liberation Serif", "fontSize": 20, "align": "left", "baseline": "middle"},
   "encoding": {"x": {"datum": -31.2, "type": "quantitative", "axis": null}, "y": {"datum": -62.8, "type": "quantitative", "axis": null}}},
  {"data": {"values": [{}]}, "mark": {"type": "text", "text": "a", "font": "Liberation Serif", "fontStyle": "italic", "fontSize": 20, "align": "left", "baseline": "middle"},
   "encoding": {"x": {"datum": -39.7, "type": "quantitative", "axis": null}, "y": {"datum": -72.1, "type": "quantitative", "axis": null}}},
  {"data": {"values": [{}]}, "mark": {"type": "text", "text": "p", "font": "Liberation Serif", "fontSize": 13, "align": "left", "baseline": "middle"},
   "encoding": {"x": {"datum": -35.8, "type": "quantitative", "axis": null}, "y": {"datum": -74.1, "type": "quantitative", "axis": null}}},
  {"data": {"values": [{}]}, "mark": {"type": "text", "text": "= 0.6 mm", "font": "Liberation Serif", "fontSize": 20, "align": "left", "baseline": "middle"},
   "encoding": {"x": {"datum": -27.2, "type": "quantitative", "axis": null}, "y": {"datum": -72.1, "type": "quantitative", "axis": null}}}
 ]},
 {"vconcat": [
  {"width": 271, "height": 148, "layer": [
   {"data": {"name": "b1"}, "mark": {"type": "line", "color": "black", "strokeWidth": 2.2},
    "encoding": {"x": {"field": "x", "type": "quantitative", "scale": {"domain": [0, 100], "nice": false, "zero": false}, "axis": {"orient": "bottom", "values": [0, 30, 60, 90], "format": ".1~f", "title": "Number of tool revolutions [1]"}},
     "y": {"field": "y", "type": "quantitative", "scale": {"domain": [-30, 30], "nice": false, "zero": false}, "axis": {"orient": "left", "values": [-20, 0, 20], "format": ".1~f", "title": "Ampl. [μm]", "titlePadding": 2}}}},
   {"data": {"values": [{}]}, "mark": {"type": "text", "text": "(B)", "font": "Liberation Serif", "fontSize": 18, "align": "right", "baseline": "middle"},
    "encoding": {"x": {"datum": 94.8, "type": "quantitative", "axis": {"orient": "top", "values": [0, 30, 60, 90], "labels": false, "title": null}}, "y": {"datum": 23.1, "type": "quantitative", "axis": {"orient": "right", "values": [-20, 0, 20], "labels": false, "title": null}}}}
  ]},
  {"width": 271, "height": 148, "layer": [
   {"data": {"name": "cg1"}, "mark": {"type": "rule", "color": "#2fe62f", "strokeWidth": 1.6},
    "encoding": {"x": {"field": "x", "type": "quantitative", "axis": null}}},
   {"data": {"name": "c1"}, "mark": {"type": "line", "color": "black", "strokeWidth": 1.3},
    "encoding": {"x": {"field": "x", "type": "quantitative", "scale": {"domain": [0, 2.22], "nice": false, "zero": false}, "axis": {"orient": "bottom", "values": [0, 0.5, 1, 1.5, 2], "format": ".1~f", "title": "Frequency [kHz]"}},
     "y": {"field": "y", "type": "quantitative", "scale": {"domain": [-1, 8], "nice": false, "zero": false}, "axis": {"orient": "left", "values": [0, 3, 6], "format": ".1~f", "title": "log Ampl. [μm]", "titlePadding": 2}}}},
   {"data": {"values": [{}]}, "mark": {"type": "text", "text": "(C)", "font": "Liberation Serif", "fontSize": 18, "align": "right", "baseline": "middle"},
    "encoding": {"x": {"datum": 2.105, "type": "quantitative", "axis": {"orient": "top", "values": [0, 0.5, 1, 1.5, 2], "labels": false, "title": null}}, "y": {"datum": 6.97, "type": "quantitative", "axis": {"orient": "right", "values": [0, 3, 6], "labels": false, "title": null}}}}
  ]}
 ], "spacing": 64, "bounds": "flush"}
], "spacing": 79, "bounds": "flush"},
{"vconcat": [
{"hconcat": [
 {"width": 193, "height": 361, "layer": [
  {"data": {"name": "a2"}, "mark": {"type": "area", "color": "#2fe62f", "opacity": 1},
   "encoding": {"x": {"field": "x", "type": "quantitative", "scale": {"domain": [-43, 40.9], "nice": false, "zero": false}, "axis": {"orient": "bottom", "values": [-30, 0, 30], "format": ".1~f", "title": "Disp. in normal dir. [μm]"}},
    "y": {"field": "lo", "type": "quantitative", "scale": {"domain": [-86.6, 70.4], "nice": false, "zero": false}, "axis": {"orient": "left", "values": [-60, -30, 0, 30, 60], "format": ".1~f", "title": "Displacement in feed direction [μm]", "titlePadding": 8}},
    "y2": {"field": "hi"}}},
  {"data": {"name": "a2r"}, "mark": {"type": "circle", "color": "#ff2020", "size": 28, "opacity": 1},
   "encoding": {"x": {"field": "x", "type": "quantitative", "axis": null}, "y": {"field": "y", "type": "quantitative", "axis": null}}},
  {"data": {"values": [{}]}, "mark": {"type": "text", "text": "(A)", "font": "Liberation Serif", "fontSize": 18, "align": "right", "baseline": "middle"},
   "encoding": {"x": {"datum": 36.1, "type": "quantitative", "axis": {"orient": "top", "values": [-30, 0, 30], "labels": false, "title": null}}, "y": {"datum": 59.5, "type": "quantitative", "axis": {"orient": "right", "values": [-60, -30, 0, 30, 60], "labels": false, "title": null}}}},
  {"data": {"values": [{}]}, "mark": {"type": "text", "text": "n", "font": "Liberation Serif", "fontStyle": "italic", "fontSize": 20, "align": "left", "baseline": "middle"},
   "encoding": {"x": {"datum": -40.0, "type": "quantitative", "axis": null}, "y": {"datum": -70.3, "type": "quantitative", "axis": null}}},
  {"data": {"values": [{}]}, "mark": {"type": "text", "text": "= 23 krpm", "font": "Liberation Serif", "fontSize": 20, "align": "left", "baseline": "middle"},
   "encoding": {"x": {"datum": -33.9, "type": "quantitative", "axis": null}, "y": {"datum": -70.3, "type": "quantitative", "axis": null}}},
  {"data": {"values": [{}]}, "mark": {"type": "text", "text": "a", "font": "Liberation Serif", "fontStyle": "italic", "fontSize": 20, "align": "left", "baseline": "middle"},
   "encoding": {"x": {"datum": -40.0, "type": "quantitative", "axis": null}, "y": {"datum": -79.4, "type": "quantitative", "axis": null}}},
  {"data": {"values": [{}]}, "mark": {"type": "text", "text": "p", "font": "Liberation Serif", "fontSize": 13, "align": "left", "baseline": "middle"},
   "encoding": {"x": {"datum": -36.0, "type": "quantitative", "axis": null}, "y": {"datum": -81.5, "type": "quantitative", "axis": null}}},
  {"data": {"values": [{}]}, "mark": {"type": "text", "text": "= 1 mm", "font": "Liberation Serif", "fontSize": 20, "align": "left", "baseline": "middle"},
   "encoding": {"x": {"datum": -31.7, "type": "quantitative", "axis": null}, "y": {"datum": -79.4, "type": "quantitative", "axis": null}}}
 ]},
 {"vconcat": [
  {"width": 271, "height": 148, "layer": [
   {"data": {"name": "b2"}, "mark": {"type": "line", "color": "black", "strokeWidth": 1.3, "point": {"filled": true, "size": 12, "color": "black"}},
    "encoding": {"x": {"field": "x", "type": "quantitative", "scale": {"domain": [0, 100], "nice": false, "zero": false}, "axis": {"orient": "bottom", "values": [0, 30, 60, 90], "format": ".1~f", "title": "Number of tool revolutions [1]"}},
     "y": {"field": "y", "type": "quantitative", "scale": {"domain": [-30, 30], "nice": false, "zero": false}, "axis": {"orient": "left", "values": [-20, 0, 20], "format": ".1~f", "title": "Ampl. [μm]", "titlePadding": 2}}}},
   {"data": {"values": [{}]}, "mark": {"type": "text", "text": "(B)", "font": "Liberation Serif", "fontSize": 18, "align": "right", "baseline": "middle"},
    "encoding": {"x": {"datum": 93.7, "type": "quantitative", "axis": {"orient": "top", "values": [0, 30, 60, 90], "labels": false, "title": null}}, "y": {"datum": -26.4, "type": "quantitative", "axis": {"orient": "right", "values": [-20, 0, 20], "labels": false, "title": null}}}}
  ]},
  {"width": 271, "height": 148, "layer": [
   {"data": {"name": "cg2"}, "mark": {"type": "rule", "color": "#2fe62f", "strokeWidth": 1.6},
    "encoding": {"x": {"field": "x", "type": "quantitative", "axis": null}}},
   {"data": {"name": "c2"}, "mark": {"type": "line", "color": "black", "strokeWidth": 1.3},
    "encoding": {"x": {"field": "x", "type": "quantitative", "scale": {"domain": [0, 2.22], "nice": false, "zero": false}, "axis": {"orient": "bottom", "values": [0, 0.5, 1, 1.5, 2], "format": ".1~f", "title": "Frequency [kHz]"}},
     "y": {"field": "y", "type": "quantitative", "scale": {"domain": [-1, 8], "nice": false, "zero": false}, "axis": {"orient": "left", "values": [0, 3, 6], "format": ".1~f", "title": "log Ampl. [μm]", "titlePadding": 2}}}},
   {"data": {"values": [{}]}, "mark": {"type": "text", "text": "(C)", "font": "Liberation Serif", "fontSize": 18, "align": "right", "baseline": "middle"},
    "encoding": {"x": {"datum": 2.114, "type": "quantitative", "axis": {"orient": "top", "values": [0, 0.5, 1, 1.5, 2], "labels": false, "title": null}}, "y": {"datum": 6.97, "type": "quantitative", "axis": {"orient": "right", "values": [0, 3, 6], "labels": false, "title": null}}}}
  ]}
 ], "spacing": 64, "bounds": "flush"}
], "spacing": 79, "bounds": "flush"},
{"hconcat": [
 {"width": 193, "height": 361, "layer": [
  {"data": {"name": "a3"}, "mark": {"type": "line", "color": "#2fe62f", "strokeWidth": 13, "strokeCap": "round", "strokeJoin": "round"},
   "encoding": {"x": {"field": "x", "type": "quantitative", "scale": {"domain": [-57.7, 52.6], "nice": false, "zero": false}, "axis": {"orient": "bottom", "values": [-40, 0, 40], "format": ".1~f", "title": "Disp. in normal dir. [μm]"}},
    "y": {"field": "y", "type": "quantitative", "scale": {"domain": [-110.5, 97.3], "nice": false, "zero": false}, "axis": {"orient": "left", "values": [-80, -40, 0, 40, 80], "format": ".1~f", "title": "Displacement in feed direction [μm]", "titlePadding": 8}},
    "order": {"field": "i", "type": "quantitative"}}},
  {"data": {"name": "a3"}, "mark": {"type": "line", "color": "black", "strokeWidth": 2, "strokeJoin": "round"},
   "encoding": {"x": {"field": "x", "type": "quantitative", "axis": null}, "y": {"field": "y", "type": "quantitative", "axis": null}, "order": {"field": "i", "type": "quantitative"}}},
  {"data": {"name": "a3r"}, "mark": {"type": "circle", "color": "#ff2020", "size": 30, "opacity": 1},
   "encoding": {"x": {"field": "x", "type": "quantitative", "axis": null}, "y": {"field": "y", "type": "quantitative", "axis": null}}},
  {"data": {"values": [{}]}, "mark": {"type": "text", "text": "(A)", "font": "Liberation Serif", "fontSize": 18, "align": "right", "baseline": "middle"},
   "encoding": {"x": {"datum": 46.3, "type": "quantitative", "axis": {"orient": "top", "values": [-40, 0, 40], "labels": false, "title": null}}, "y": {"datum": 88.7, "type": "quantitative", "axis": {"orient": "right", "values": [-80, -40, 0, 40, 80], "labels": false, "title": null}}}},
  {"data": {"values": [{}]}, "mark": {"type": "text", "text": "n", "font": "Liberation Serif", "fontStyle": "italic", "fontSize": 20, "align": "left", "baseline": "middle"},
   "encoding": {"x": {"datum": -54.8, "type": "quantitative", "axis": null}, "y": {"datum": -85.8, "type": "quantitative", "axis": null}}},
  {"data": {"values": [{}]}, "mark": {"type": "text", "text": "= 28.5 krpm", "font": "Liberation Serif", "fontSize": 20, "align": "left", "baseline": "middle"},
   "encoding": {"x": {"datum": -46.8, "type": "quantitative", "axis": null}, "y": {"datum": -85.8, "type": "quantitative", "axis": null}}},
  {"data": {"values": [{}]}, "mark": {"type": "text", "text": "a", "font": "Liberation Serif", "fontStyle": "italic", "fontSize": 20, "align": "left", "baseline": "middle"},
   "encoding": {"x": {"datum": -54.8, "type": "quantitative", "axis": null}, "y": {"datum": -99.0, "type": "quantitative", "axis": null}}},
  {"data": {"values": [{}]}, "mark": {"type": "text", "text": "p", "font": "Liberation Serif", "fontSize": 13, "align": "left", "baseline": "middle"},
   "encoding": {"x": {"datum": -49.7, "type": "quantitative", "axis": null}, "y": {"datum": -101.3, "type": "quantitative", "axis": null}}},
  {"data": {"values": [{}]}, "mark": {"type": "text", "text": "= 0.8 mm", "font": "Liberation Serif", "fontSize": 20, "align": "left", "baseline": "middle"},
   "encoding": {"x": {"datum": -42.3, "type": "quantitative", "axis": null}, "y": {"datum": -99.0, "type": "quantitative", "axis": null}}}
 ]},
 {"vconcat": [
  {"width": 271, "height": 148, "layer": [
   {"data": {"name": "b3"}, "mark": {"type": "line", "color": "black", "strokeWidth": 1, "point": {"filled": true, "size": 12, "color": "black"}},
    "encoding": {"x": {"field": "x", "type": "quantitative", "scale": {"domain": [0, 100], "nice": false, "zero": false}, "axis": {"orient": "bottom", "values": [0, 30, 60, 90], "format": ".1~f", "title": "Number of tool revolutions [1]"}},
     "y": {"field": "y", "type": "quantitative", "scale": {"domain": [-30, 30], "nice": false, "zero": false}, "axis": {"orient": "left", "values": [-20, 0, 20], "format": ".1~f", "title": "Ampl. [μm]", "titlePadding": 2}}}},
   {"data": {"values": [{}]}, "mark": {"type": "text", "text": "(B)", "font": "Liberation Serif", "fontSize": 18, "align": "right", "baseline": "middle"},
    "encoding": {"x": {"datum": 93.7, "type": "quantitative", "axis": {"orient": "top", "values": [0, 30, 60, 90], "labels": false, "title": null}}, "y": {"datum": 23.5, "type": "quantitative", "axis": {"orient": "right", "values": [-20, 0, 20], "labels": false, "title": null}}}}
  ]},
  {"width": 271, "height": 148, "layer": [
   {"data": {"name": "cg3"}, "mark": {"type": "rule", "color": "#2fe62f", "strokeWidth": 1.6},
    "encoding": {"x": {"field": "x", "type": "quantitative", "axis": null}}},
   {"data": {"name": "c3"}, "mark": {"type": "line", "color": "black", "strokeWidth": 1.3},
    "encoding": {"x": {"field": "x", "type": "quantitative", "scale": {"domain": [0, 2.22], "nice": false, "zero": false}, "axis": {"orient": "bottom", "values": [0, 0.5, 1, 1.5, 2], "format": ".1~f", "title": "Frequency [kHz]"}},
     "y": {"field": "y", "type": "quantitative", "scale": {"domain": [-1, 8], "nice": false, "zero": false}, "axis": {"orient": "left", "values": [0, 3, 6], "format": ".1~f", "title": "log Ampl. [μm]", "titlePadding": 2}}}},
   {"data": {"values": [{}]}, "mark": {"type": "text", "text": "(C)", "font": "Liberation Serif", "fontSize": 18, "align": "right", "baseline": "middle"},
    "encoding": {"x": {"datum": 2.097, "type": "quantitative", "axis": {"orient": "top", "values": [0, 0.5, 1, 1.5, 2], "labels": false, "title": null}}, "y": {"datum": 6.84, "type": "quantitative", "axis": {"orient": "right", "values": [0, 3, 6], "labels": false, "title": null}}}}
  ]}
 ], "spacing": 64, "bounds": "flush"}
], "spacing": 79, "bounds": "flush"}
], "spacing": 40}
],
"config": {
 "view": {"stroke": "black", "strokeWidth": 1},
 "font": "Liberation Serif",
 "axis": {"domain": false, "grid": false, "ticks": true, "tickSize": -5, "tickColor": "black", "tickWidth": 1, "labelFont": "Liberation Serif", "labelFontSize": 19, "labelColor": "black", "labelFlush": false, "labelOverlap": false, "titleFont": "Liberation Serif", "titleFontSize": 20, "titleFontWeight": "normal", "titleColor": "black"},
 "axisX": {"labelPadding": 13, "titlePadding": 0},
 "axisY": {"labelPadding": 10}
}
}
